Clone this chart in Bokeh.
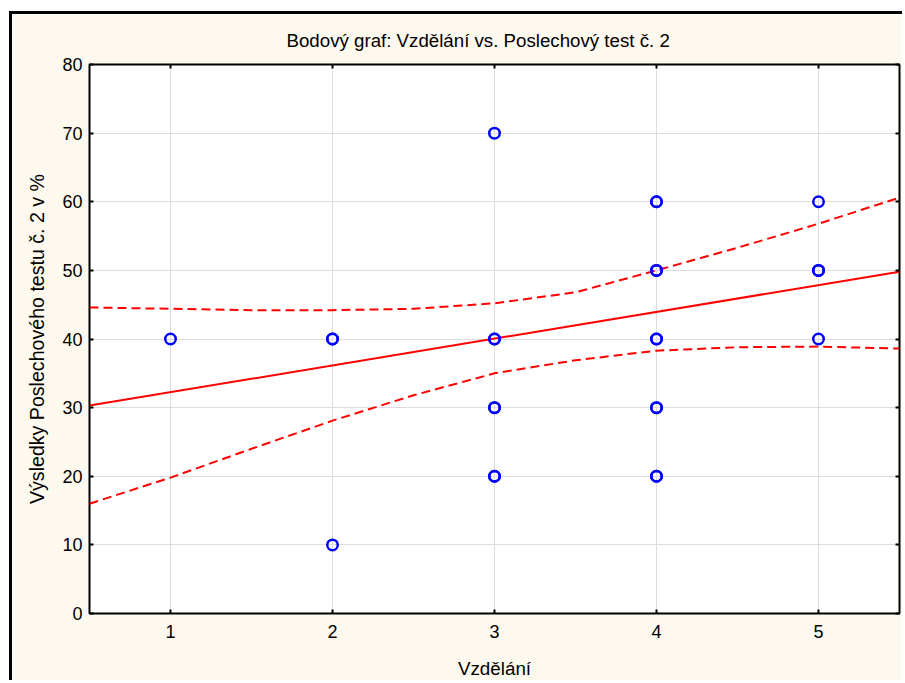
from bokeh.plotting import figure
from bokeh.models import LinearAxis, Range1d, FixedTicker, CustomJSTickFormatter
from bokeh.embed import file_html
from bokeh.resources import INLINE

# ---- data ----
edu = [1, 2, 2, 2, 3, 3, 3, 3, 3, 3, 3, 4, 4, 4, 4, 4, 4, 4, 4, 4, 4, 5, 5, 5, 5]
score = [40, 40, 40, 10, 70, 40, 40, 30, 30, 20, 20, 60, 60, 50, 50, 40, 40, 30, 30, 20, 20, 60, 50, 50, 40]

fit_x = [0.5, 5.5]
fit_y = [30.3, 49.8]

band_x = [0.5, 1.0, 1.5, 2.0, 2.5, 3.0, 3.5, 4.0, 4.5, 5.0, 5.5]
upper_y = [44.6, 44.4, 44.2, 44.2, 44.4, 45.2, 46.8, 50.0, 53.3, 56.8, 60.6]
lower_y = [16.0, 19.8, 24.0, 28.1, 31.8, 35.0, 36.9, 38.3, 38.8, 38.9, 38.6]

x_ticks = [1, 2, 3, 4, 5]
y_ticks = [0, 10, 20, 30, 40, 50, 60, 70, 80]

title_text = "Bodový graf: Vzdělání vs. Poslechový test č. 2"
x_label = "Vzdělání"
y_label = "Výsledky Poslechového testu č. 2 v %"

FONT = "Liberation Sans"
CREAM = "#FEF9EF"
FS = "18px"

p = figure(
    width=893, height=669,
    output_backend="svg", toolbar_location=None,
    x_range=Range1d(0.5, 5.5), y_range=Range1d(0, 80),
    min_border_left=77, min_border_right=6, min_border_top=50, min_border_bottom=70,
    border_fill_color=CREAM, background_fill_color="white",
    outline_line_color="black", outline_line_width=2,
    x_axis_label=x_label, y_axis_label=y_label,
)
p.styles = {"margin-left": "9px", "margin-top": "11px",
            "border-left": "3px solid black", "border-top": "3px solid black"}

p.title.text = title_text
p.title.align = "left"
p.title.offset = 197
p.title.standoff = 24
p.title.vertical_align = "top"
p.title.text_font = FONT
p.title.text_font_size = "18.7px"
p.title.text_font_style = "normal"
p.title.text_color = "black"

for ax in (p.xaxis[0], p.yaxis[0]):
    ax.axis_line_color = None
    ax.major_tick_in = 4
    ax.major_tick_out = 0
    ax.major_tick_line_width = 2
    ax.major_tick_line_color = "black"
    ax.minor_tick_line_color = None
    ax.major_label_text_font = FONT
    ax.major_label_text_font_size = FS
    ax.major_label_text_color = "black"
    ax.axis_label_text_font = FONT
    ax.axis_label_text_font_style = "normal"
    ax.axis_label_text_color = "black"

p.xaxis[0].axis_label_text_font_size = "18.8px"
p.yaxis[0].axis_label_text_font_size = "19.6px"
p.xaxis[0].ticker = FixedTicker(ticks=x_ticks)
p.yaxis[0].ticker = FixedTicker(ticks=y_ticks)
p.xaxis[0].major_label_standoff = 11
p.xaxis[0].axis_label_standoff = 17
p.yaxis[0].major_label_standoff = 7
p.yaxis[0].axis_label_standoff = 11

for loc, tk in (("right", y_ticks), ("above", x_ticks)):
    a = LinearAxis(ticker=FixedTicker(ticks=tk),
                   formatter=CustomJSTickFormatter(code="return ''"))
    a.axis_line_color = None
    a.major_tick_in = 4
    a.major_tick_out = 0
    a.major_tick_line_width = 2
    a.minor_tick_line_color = None
    a.major_label_standoff = 0
    p.add_layout(a, loc)

p.xgrid.ticker = FixedTicker(ticks=x_ticks)
p.ygrid.ticker = FixedTicker(ticks=y_ticks)
p.xgrid.grid_line_color = "#DCDCDC"
p.ygrid.grid_line_color = "#DCDCDC"

p.line(band_x, upper_y, line_color="#FF0000", line_width=2, line_dash="9 5")
p.line(band_x, lower_y, line_color="#FF0000", line_width=2, line_dash="9 5")
p.line(fit_x, fit_y, line_color="#FF0000", line_width=2)
p.scatter(edu, score, size=10.5, marker="circle", fill_color=None,
          line_color="#0000FF", line_width=2.5)

open("out.html", "w").write(file_html(p, INLINE))
